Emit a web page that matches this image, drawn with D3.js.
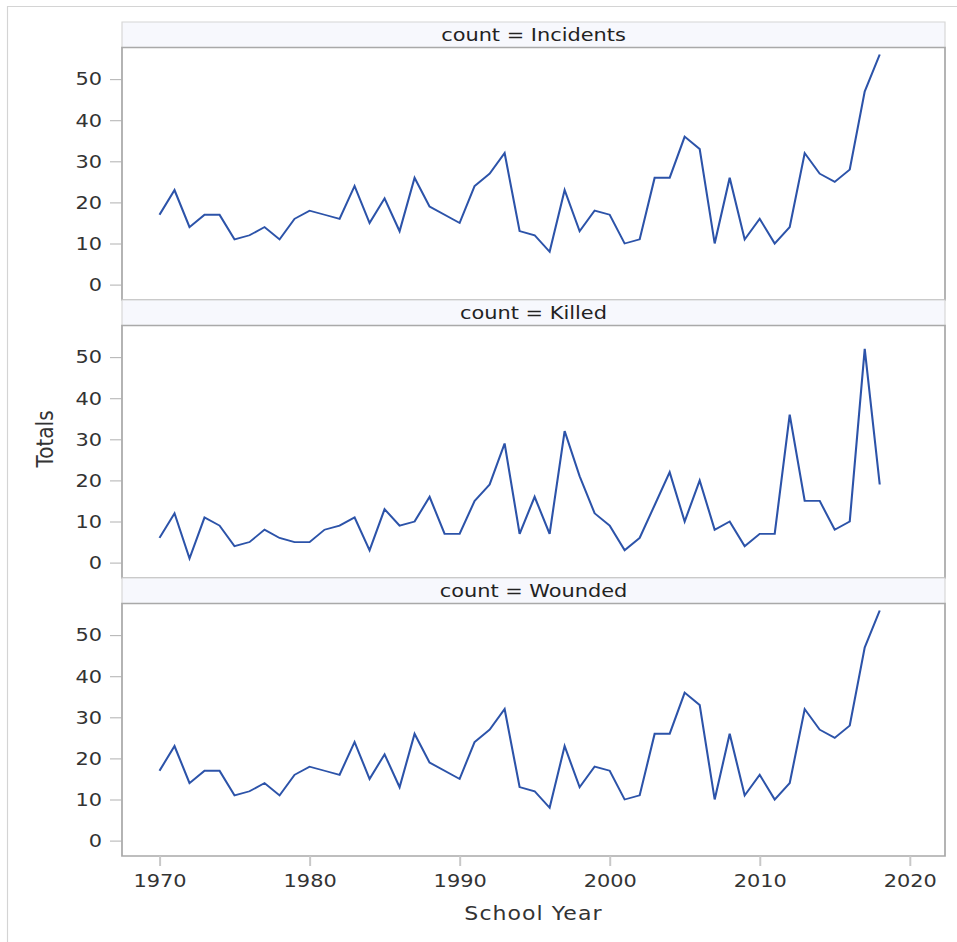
<!DOCTYPE html>
<html>
<head>
<meta charset="utf-8">
<script src="https://cdn.jsdelivr.net/npm/d3@7"></script>
<style>
  body { margin: 0; background: #fff; }
  svg { display: block; }
</style>
</head>
<body>
<div id="chart"></div>
<script>
(function() {
  // data
  var years = d3.range(1970, 2019);
  var incidents = [17,23,14,17,17,11,12,14,11,16, 18,17,16,24,15,21,13,26,19,17,
                   15,24,27,32,13,12,8,23,13,18, 17,10,11,26,26,36,33,10,26,11,
                   16,10,14,32,27,25,28,47,56];
  var killed    = [6,12,1,11,9,4,5,8,6,5, 5,8,9,11,3,13,9,10,16,7,
                   7,15,19,29,7,16,7,32,21,12, 9,3,6,14,22,10,20,8,10,4,
                   7,7,36,15,15,8,10,52,19];
  var wounded   = [17,23,14,17,17,11,12,14,11,16, 18,17,16,24,15,21,13,26,19,17,
                   15,24,27,32,13,12,8,23,13,18, 17,10,11,26,26,36,33,10,26,11,
                   16,10,14,32,27,25,28,47,56];
  var panels = ['Incidents', 'Killed', 'Wounded'];
  var yTicks = [0, 10, 20, 30, 40, 50];
  var xTicks = [1970, 1980, 1990, 2000, 2010, 2020];

  var series = [incidents, killed, wounded];

  // layout in screen px; the picture is stretched sideways so x gets divided by sx
  var W = 957, H = 942, sx = 1.16,
      left = 122, right = 945,
      top = 22, headH = 25.5, plotH = 252.5,
      font = '"DejaVu Sans", Verdana, sans-serif';

  var svg = d3.select('#chart').append('svg')
    .attr('width', W)
    .attr('height', H)
    .attr('viewBox', '0 0 ' + (W / sx) + ' ' + H)
    .attr('preserveAspectRatio', 'none');

  // outer frame
  svg.append('rect')
    .attr('x', 7.5 / sx).attr('y', 6.5)
    .attr('width', W).attr('height', H)
    .attr('fill', 'none')
    .attr('stroke', '#d4d4d4');

  var x = d3.scaleLinear()
    .domain([1967.5, 2022.35])
    .range([left / sx, right / sx]);

  var bottom = top + 3 * (headH + plotH);

  panels.forEach(function(name, i) {
    var y0 = top + i * (headH + plotH),
        p0 = y0 + headH;

    var y = d3.scaleLinear()
      .domain([-3.75, 57.7])
      .range([p0 + plotH, p0]);

    // header strip
    svg.append('rect')
      .attr('x', left / sx).attr('y', y0)
      .attr('width', (right - left) / sx).attr('height', headH)
      .attr('fill', '#f7f8fd')
      .attr('stroke', '#d6d6d6');

    svg.append('text')
      .attr('x', (left + right) / 2 / sx)
      .attr('y', y0 + headH / 2)
      .attr('dy', '0.36em')
      .attr('text-anchor', 'middle')
      .attr('font-family', font)
      .attr('font-size', 18)
      .attr('fill', '#222')
      .text('count = ' + name);

    // plot frame
    svg.append('rect')
      .attr('x', left / sx).attr('y', p0)
      .attr('width', (right - left) / sx).attr('height', plotH)
      .attr('fill', '#fff')
      .attr('stroke', '#a9a9a9')
      .attr('stroke-width', 1.5);

    // y axis
    var ya = svg.append('g')
      .attr('transform', 'translate(' + (left / sx) + ',0)')
      .call(d3.axisLeft(y)
        .tickValues(yTicks)
        .tickSize(12 / sx)
        .tickPadding(8 / sx));
    ya.select('.domain').remove();
    ya.selectAll('line').attr('stroke', '#b0b0b0');
    ya.selectAll('text')
      .attr('font-family', font)
      .attr('font-size', 18)
      .attr('fill', '#333');

    // series line
    var line = d3.line()
      .x(function(d, j) { return x(years[j]); })
      .y(function(d) { return y(d); });

    svg.append('path')
      .datum(series[i])
      .attr('d', line)
      .attr('fill', 'none')
      .attr('stroke', '#2c53a9')
      .attr('stroke-width', 1.8);
  });

  // x axis under last panel
  var xa = svg.append('g')
    .attr('transform', 'translate(0,' + bottom + ')')
    .call(d3.axisBottom(x)
      .tickValues(xTicks)
      .tickFormat(d3.format('d'))
      .tickSize(10)
      .tickPadding(8));
  xa.select('.domain').remove();
  xa.selectAll('line')
    .attr('stroke', '#c8c8c8')
    .attr('stroke-width', 2 / sx);
  xa.selectAll('text')
    .attr('font-family', font)
    .attr('font-size', 18)
    .attr('fill', '#333');

  // axis titles
  svg.append('text')
    .attr('x', (left + right) / 2 / sx)
    .attr('y', 920)
    .attr('text-anchor', 'middle')
    .attr('font-family', font)
    .attr('font-size', 19)
    .attr('letter-spacing', 0.9)
    .attr('fill', '#333')
    .text('School Year');

  svg.append('text')
    .attr('transform', 'translate(' + (52.5 / sx) + ',' + ((top + bottom) / 2) + ') rotate(-90)')
    .attr('text-anchor', 'middle')
    .attr('font-family', font)
    .attr('font-size', 20)
    .attr('fill', '#333')
    .text('Totals');

})()
</script>
</body>
</html>
